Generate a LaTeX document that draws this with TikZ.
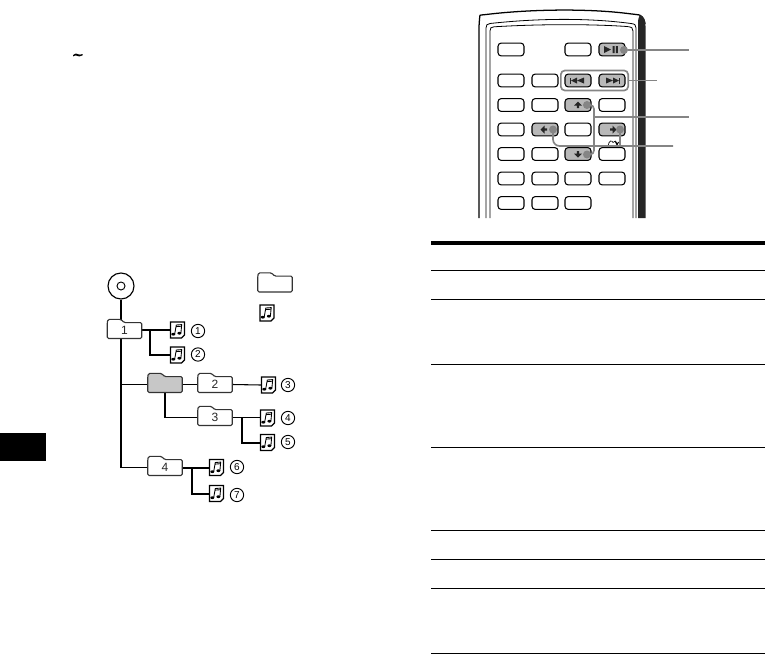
\documentclass[tikz,border=0pt]{standalone}
\usepackage{fontspec}
\setmainfont{Liberation Sans}
\usetikzlibrary{calc}
\definecolor{leadgray}{gray}{0.52}
\definecolor{btngray}{gray}{0.72}
\definecolor{foldgray}{gray}{0.78}
\tikzset{
  x=0.75pt,y=-0.75pt,
  thinlink/.style={draw=black,line width=0.8pt},
  thicklink/.style={draw=black,line width=1.5pt},
  rule/.style={draw=black,line width=0.75pt},
  lead/.style={draw=leadgray,line width=1.25pt},
  leaddot/.style={circle,fill=leadgray,inner sep=0pt,minimum size=6pt},
  btn/.style={draw=black,fill=white,rounded corners=2.4pt,line width=0.8pt,minimum width=19.5pt,minimum height=9.6pt,inner sep=0pt},
  btnon/.style={btn,fill=btngray},
  foldbody/.style={inner sep=0pt,minimum width=25.5pt,minimum height=11.5pt},
  foldlabel/.style={inner sep=0pt,font=\fontsize{9}{9}\selectfont,text=black!85},
  iconbox/.style={inner sep=0pt,minimum width=11pt,minimum height=12pt},
  numcirc/.style={circle,draw=black,line width=0.7pt,inner sep=0pt,minimum size=10pt,font=\fontsize{7.5}{7.5}\selectfont},
  glyph/.style={fill=black!85,draw=none}
}
% folder outline around a body node: name, fill
\newcommand{\folderat}[2]{%
  \draw[draw=black!80,fill=#2,rounded corners=1pt,line width=0.85pt]
    ($(#1.south west)$) -- ($(#1.north west)$) -- ++(0.8,-3.2) -- ++(13,0) -- ++(3,3.2)
    -- ($(#1.north east)$) -- ($(#1.south east)$) -- cycle;
}
% music file icon in a box node
\newcommand{\musicicon}[1]{%
  \begin{scope}[shift={(#1.center)}]
    \draw[draw=black,fill=white,line width=0.85pt,line join=miter] (-7,-8) -- (7,-8) -- (7,5) -- (4,8) -- (-7,8) -- cycle;
    \draw[black,line width=0.65pt] (-2.8,4) -- (-1.2,-5) -- (4.2,-5.4) -- (3.4,3);
    \draw[black,line width=0.65pt] (-1.3,-3.4) -- (4,-3.8);
    \fill[black] (-4.2,4.2) ellipse[x radius=2,y radius=1.4];
    \fill[black] (1.9,3.2) ellipse[x radius=2,y radius=1.4];
  \end{scope}}
\begin{document}
\begin{tikzpicture}
\useasboundingbox (0,0) rectangle (765,654);
% page block
\fill[black] (0,433) rectangle (46,461);
% tilde mark
\fill[black] (73,55) .. controls (75,53) and (77,53.4) .. (78,54.2) .. controls (79,54.8) and (81,54.8) .. (82.5,54) -- (82.5,55.4) .. controls (80,57) and (78,56.4) .. (77,55.8) .. controls (76,55.2) and (75,55.2) .. (73,56.4) -- cycle;
% table rules
\fill[black] (431,241) rectangle (765,245);
\foreach \yy in {270,299,364,447,530,559,588,653}
  \draw[rule] (431,\yy) -- (765,\yy);

% ---------- tree ----------
\node[circle,inner sep=0pt,minimum size=19.5pt,draw=black,line width=0.85pt] (disc) at (121,286) {};
\node[circle,inner sep=0pt,minimum size=6pt,draw=black,line width=0.7pt] (hole) at (121,286) {};
\node[foldbody] (f1) at (124.5,330.5) {};
\node[foldbody] (fg) at (165,384.5) {};
\node[foldbody] (f2) at (215,384.5) {};
\node[foldbody] (f3) at (215,417.5) {};
\node[foldbody] (f4) at (165,467.5) {};
\node[foldbody] (flegend) at (275,284) {};
\node[iconbox] (m1) at (177.5,330) {};
\node[iconbox] (m2) at (177.5,355) {};
\node[iconbox] (m3) at (268.5,385) {};
\node[iconbox] (m4) at (267.5,418) {};
\node[iconbox] (m5) at (267.5,442.5) {};
\node[iconbox] (m6) at (216.5,467.5) {};
\node[iconbox] (m7) at (216.5,493.5) {};
\node[iconbox] (mlegend) at (267,313) {};
\node[numcirc] (n1) at (198,331) {1};
\node[numcirc] (n2) at (198,354.5) {2};
\node[numcirc] (n3) at (288,385) {3};
\node[numcirc] (n4) at (288,418) {4};
\node[numcirc] (n5) at (288,442) {5};
\node[numcirc] (n6) at (237,467) {6};
\node[numcirc] (n7) at (237,495) {7};
\coordinate (trunk) at (121,338);
\coordinate (b1) at (150,330);
\coordinate (b3) at (242,417.5);
\coordinate (b4) at (192,467.5);

\draw[thinlink] (disc) -- (trunk);
\draw[thinlink] (trunk) |- (fg.west);
\draw[thinlink] (trunk) |- (f4.west);
\draw[thinlink] (fg.east) -- (f2.west);
\draw[thinlink] (f2.east) -- (m3.west);
\draw[thinlink] (fg.south) |- (f3.west);
\draw[thinlink] (f3.east) -- (m4.west |- f3.east);
\draw[thicklink] (f1.east |- b1) -- (m1.west);
\draw[thicklink] (b1) |- (m2.west);
\draw[thicklink] (b3) |- (m5.west);
\draw[thicklink] (f4.east) -- (m6.west);
\draw[thicklink] (b4) |- (m7.west);

\folderat{f1}{white}\node[foldlabel] (t1) at (f1) {1};
\folderat{fg}{foldgray}
\folderat{f2}{white}\node[foldlabel] (t2) at (f2) {2};
\folderat{f3}{white}\node[foldlabel] (t3) at (f3) {3};
\folderat{f4}{white}\node[foldlabel] (t4) at (f4) {4};
\folderat{flegend}{white}
\foreach \m in {m1,m2,m3,m4,m5,m6,m7,mlegend}{\musicicon{\m}}

% ---------- remote ----------
\draw[black,line width=0.95pt,rounded corners=5pt] (479,218) -- (479,22)
   .. controls (480,15) and (486,14.5) .. (490,14) .. controls (540,9) and (590,9) .. (632,14)
   .. controls (640,15) and (644,17) .. (645,24);
\fill[black!85] (638,218) -- (638,22) .. controls (638,18) and (640,15) .. (640,15)
   .. controls (644,16) and (645.5,20) .. (645.5,26) -- (645.5,218) -- cycle;
\draw[black,line width=0.6pt] (486,218) -- (486,28) .. controls (486,25) and (487,24) .. (490,23.5)
   .. controls (540,18) and (590,18) .. (631,23.5) .. controls (635,24) and (636,25) .. (636,28) -- (636,218);
\draw[black,line width=0.6pt] (490,218) -- (490,31) .. controls (490,28) and (491,27) .. (494,26.8)
   .. controls (540,24) and (590,24) .. (627,26.5) .. controls (632,27) and (633,28) .. (633,31) -- (633,218);

% row 1
\node[btn] (r1a) at (511,49.5) {};
\node[btn] (r1c) at (578,49.5) {};
\node[btnon] (play) at (612,49.5) {};
% row 2
\node[btn] (r2a) at (511,80.5) {};
\node[btn] (r2b) at (545,80.5) {};
\node[btnon] (prev) at (578,80.5) {};
\node[btnon] (next) at (612,80.5) {};
\node[draw=leadgray,line width=1.25pt,rounded corners=3pt,inner sep=0pt,minimum width=50.5pt,minimum height=15pt] (grp) at (594.5,80.5) {};
% row 3
\node[btn] (r3a) at (511,105) {};
\node[btn] (r3b) at (545,105) {};
\node[btnon] (up) at (578,105) {};
\node[btn] (r3d) at (612,105) {};
% row 4
\node[btn] (r4a) at (511,129.5) {};
\node[btnon] (left) at (545,129.5) {};
\node[btn] (r4c) at (578,129.5) {};
\node[btnon] (right) at (612,129.5) {};
% row 5
\node[btn] (r5a) at (511,154) {};
\node[btn] (r5b) at (545,154) {};
\node[btnon] (down) at (578,154) {};
\node[btn] (r5d) at (612,154) {};
% row 6
\node[btn] (r6a) at (511,178.5) {};
\node[btn] (r6b) at (545,178.5) {};
\node[btn] (r6c) at (578,178.5) {};
\node[btn] (r6d) at (612,178.5) {};
% row 7
\node[btn] (r7a) at (511,203) {};
\node[btn] (r7b) at (545,203) {};
\node[btn] (r7c) at (578,203) {};

% button glyphs
\begin{scope}[shift={(play.center)}]
 \fill[glyph] (-8,-3.5) -- (-1,0) -- (-8,3.5) -- cycle;
 \fill[glyph] (0.5,-3.5) rectangle (2.5,3.5) (3.8,-3.5) rectangle (5.8,3.5);
\end{scope}
\begin{scope}[shift={(prev.center)}]
 \fill[glyph] (-8,-3) rectangle (-6.8,3);
 \fill[glyph] (-7,0) -- (-1,-3) -- (-1,3) -- cycle;
 \fill[glyph] (-1,0) -- (6,-3) -- (6,3) -- cycle;
\end{scope}
\begin{scope}[shift={(next.center)}]
 \fill[glyph] (-6,-3) -- (1,0) -- (-6,3) -- cycle;
 \fill[glyph] (1,-3) -- (7,0) -- (1,3) -- cycle;
 \fill[glyph] (6.8,-3) rectangle (8,3);
\end{scope}
\begin{scope}[shift={(up.center)}]
 \fill[glyph] (-4,0.5) -- (0,-3.5) -- (4,0.5) -- (1.2,0.5) -- (1.2,3) -- (-1.2,3) -- (-1.2,0.5) -- cycle;
\end{scope}
\begin{scope}[shift={(down.center)}]
 \fill[glyph] (-4,-0.5) -- (0,3.5) -- (4,-0.5) -- (1.2,-0.5) -- (1.2,-3) -- (-1.2,-3) -- (-1.2,-0.5) -- cycle;
\end{scope}
\begin{scope}[shift={(left.center)}]
 \fill[glyph] (-0.5,-4) -- (-4.5,0) -- (-0.5,4) -- (-0.5,1.2) -- (2,1.2) -- (2,-1.2) -- (-0.5,-1.2) -- cycle;
\end{scope}
\begin{scope}[shift={(right.center)}]
 \fill[glyph] (0.5,-4) -- (4.5,0) -- (0.5,4) -- (0.5,1.2) -- (-2,1.2) -- (-2,-1.2) -- (0.5,-1.2) -- cycle;
\end{scope}
% repeat symbol
\draw[black,line width=0.5pt,->,>=stealth] (608,146) .. controls (609,140) and (612,140) .. (613,142.5) .. controls (614,140) and (617,141) .. (617,146);

% leaders
\coordinate (lp) at (689,50);
\coordinate (ln) at (657,80.5);
\coordinate (lv) at (689,117);
\coordinate (lh) at (673,146);
\node[leaddot] (dplay) at (624,50) {};
\node[leaddot] (dup) at (587,105) {};
\node[leaddot] (ddown) at (587,154.5) {};
\node[leaddot] (dleft) at (553,129.5) {};
\node[leaddot] (dright) at (620,129.5) {};
\coordinate (vtop) at (594,105);
\coordinate (vbot) at (594,154.5);
\draw[lead] (dplay) -- (lp);
\draw[lead] (grp.east) -- (ln);
\draw[lead,rounded corners=3pt] (dup.center) -- (vtop) -- (vbot) -- (ddown.center);
\draw[lead] (vtop |- lv) -- (lv);
\draw[lead,rounded corners=5pt] (dleft.center) |- (lh);
\draw[lead] (dright.center) -- (dright.center |- lh);
\end{tikzpicture}
\end{document}
